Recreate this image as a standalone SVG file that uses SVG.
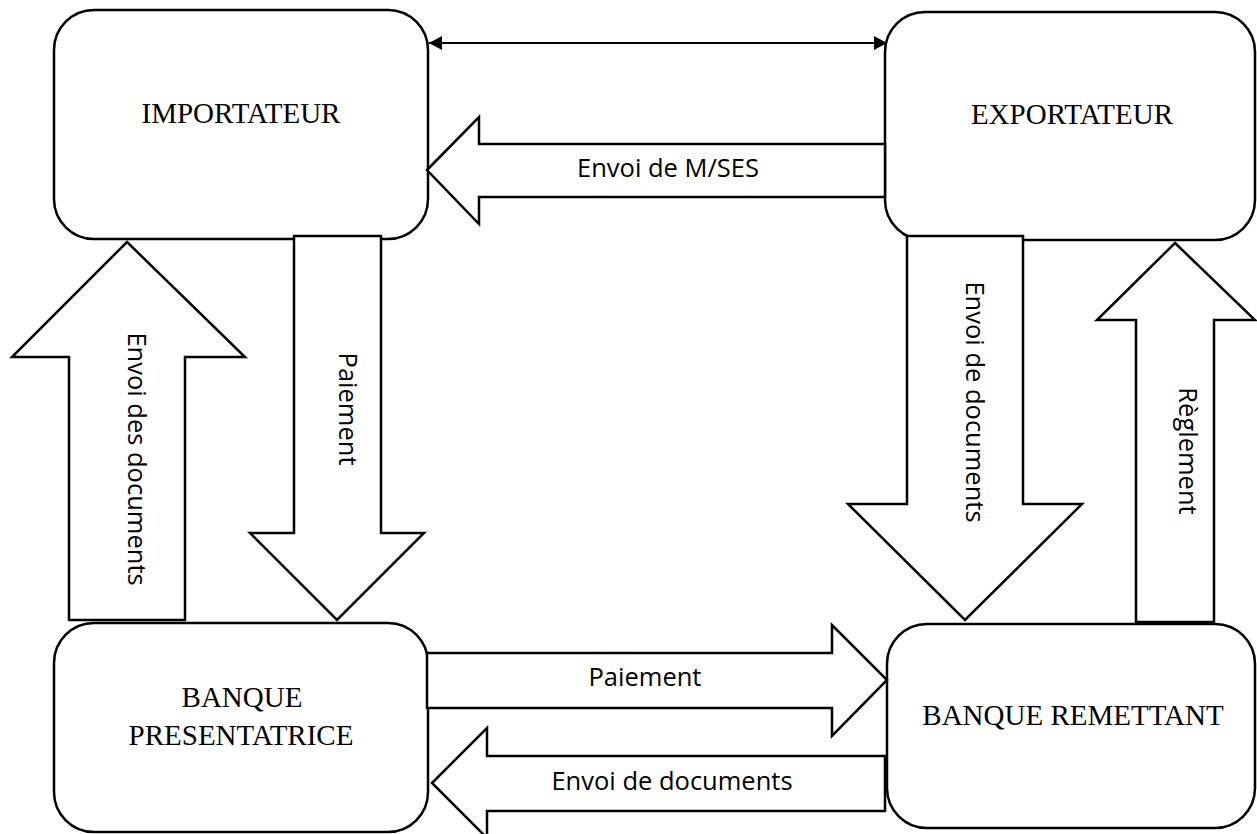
<svg xmlns="http://www.w3.org/2000/svg" width="1257" height="834" viewBox="0 0 1257 834">
<style>
.box{fill:#fff;stroke:#000;stroke-width:2.5}
.blk{fill:#fff;stroke:#000;stroke-width:2.5;stroke-linejoin:miter}
.lbl{font-family:"Liberation Serif","Times New Roman",serif;font-size:29px;fill:#000;text-anchor:middle}
.al{font-family:"Open Sans","Liberation Sans",sans-serif;font-size:25.5px;fill:#000;text-anchor:middle}
</style>
<defs>
<marker id="ah" viewBox="0 0 13 14" refX="13" refY="7" markerWidth="13" markerHeight="14" markerUnits="userSpaceOnUse" orient="auto-start-reverse">
<path d="M0,0 L13,7 L0,14 z" fill="#000"/>
</marker>
</defs>
<rect width="1257" height="834" fill="#fff"/>
<g id="importateur">
<rect class="box" x="54" y="10" width="374" height="229" rx="40"/>
<text class="lbl" x="241" y="123">IMPORTATEUR</text>
</g>
<g id="exportateur">
<rect class="box" x="885" y="12" width="370" height="228" rx="40"/>
<text class="lbl" x="1072" y="124">EXPORTATEUR</text>
</g>
<g id="banque-presentatrice">
<rect class="box" x="54" y="623" width="374" height="209" rx="40"/>
<text class="lbl" x="242" y="707">BANQUE</text>
<text class="lbl" x="241" y="745">PRESENTATRICE</text>
</g>
<g id="banque-remettant">
<rect class="box" x="887" y="624" width="368" height="204" rx="40"/>
<text class="lbl" x="1073" y="725">BANQUE REMETTANT</text>
</g>
<g id="connectors">
<line x1="429" y1="43" x2="887" y2="43" stroke="#000" stroke-width="2" marker-start="url(#ah)" marker-end="url(#ah)"/>
<g id="envoi-mses">
<polygon class="blk" points="427,170 479,117 479,144 885,144 885,197 479,197 479,224"/>
<text class="al" x="668" y="177">Envoi de M/SES</text>
</g>
<g id="envoi-des-documents">
<polygon class="blk" points="127,242 245,357 185,357 185,620 69,620 69,357 12,357"/>
<text class="al" transform="translate(128,459) rotate(90)">Envoi des documents</text>
</g>
<g id="paiement-down">
<polygon class="blk" points="294,236 381,236 381,533 424,533 337,620 250,533 294,533"/>
<text class="al" transform="translate(339,409) rotate(90)">Paiement</text>
</g>
<g id="envoi-de-documents-down">
<polygon class="blk" points="907,236 1023,236 1023,504 1082,504 965,620 848,504 907,504"/>
<text class="al" transform="translate(966,402) rotate(90)">Envoi de documents</text>
</g>
<g id="reglement">
<polygon class="blk" points="1175,243 1255,320 1214,320 1214,622 1136,622 1136,320 1097,320"/>
<text class="al" transform="translate(1179,451) rotate(90)">Règlement</text>
</g>
<g id="paiement-right">
<polygon class="blk" points="427,653 832,653 832,625 887,680 832,736 832,708 427,708"/>
<text class="al" x="645" y="686">Paiement</text>
</g>
<g id="envoi-de-documents-left">
<polygon class="blk" points="432,783 487,728 487,756 885,756 885,811 487,811 487,838"/>
<text class="al" x="672" y="790">Envoi de documents</text>
</g>
</g>
</svg>
